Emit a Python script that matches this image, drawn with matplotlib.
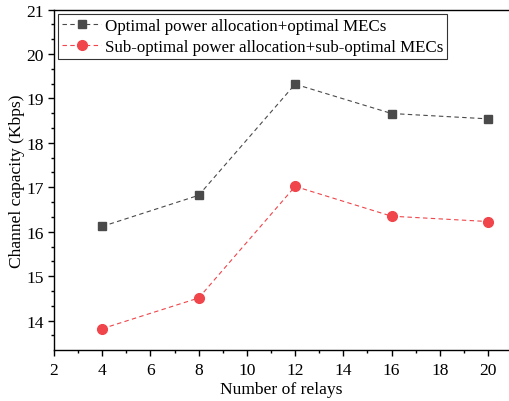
import numpy as np
import matplotlib.pyplot as plt
from matplotlib.ticker import MultipleLocator

plt.rcParams['font.family'] = ['Liberation Serif', 'DejaVu Serif']

relays = [4, 8, 12, 16, 20]
cap_opt = [16.12, 16.82, 19.32, 18.66, 18.54]
cap_sub = [13.82, 14.51, 17.02, 16.35, 16.23]

FS = 12.6

fig = plt.figure(figsize=(5.09, 4.02), dpi=100)
ax = fig.add_axes([54/509, 51/402, 1 - 54/509, (351 - 10.5)/402])

ax.plot(relays, cap_opt, ls='--', dashes=(4, 3), lw=0.8, color='#4a4a4a',
        marker='s', ms=6, mec='#4a4a4a', mfc='#4a4a4a',
        label='Optimal power allocation+optimal MECs')
ax.plot(relays, cap_sub, ls='--', dashes=(4, 3), lw=0.8, color='#f0454a',
        marker='o', ms=7, mec='#f0454a', mfc='#f0454a',
        label='Sub-optimal power allocation+sub-optimal MECs')

ax.set_xlim(2, 20.87)
ax.set_ylim(13.34, 21)
ax.xaxis.set_major_locator(MultipleLocator(2))
ax.xaxis.set_minor_locator(MultipleLocator(1))
ax.yaxis.set_major_locator(MultipleLocator(1))
ax.yaxis.set_minor_locator(MultipleLocator(1/3))
ax.tick_params(which='both', direction='out', labelsize=FS, width=1)
ax.tick_params(which='major', length=4)
ax.tick_params(which='minor', length=2.5)
ax.tick_params(axis='x', pad=5)
ax.spines['right'].set_visible(False)
for s in ['left', 'bottom', 'top']:
    ax.spines[s].set_linewidth(1)

ax.set_xlabel('Number of relays', fontsize=FS, labelpad=2)
ax.set_ylabel('Channel capacity (Kbps)', fontsize=FS, labelpad=1)

leg = ax.legend(loc='upper left', fontsize=12.2, frameon=True, fancybox=False,
                edgecolor='black', borderaxespad=0.25, handlelength=2.3,
                handletextpad=0.2, borderpad=0.25, labelspacing=0.3)
leg.get_frame().set_linewidth(0.8)

fig.savefig('out.png', dpi=100)
